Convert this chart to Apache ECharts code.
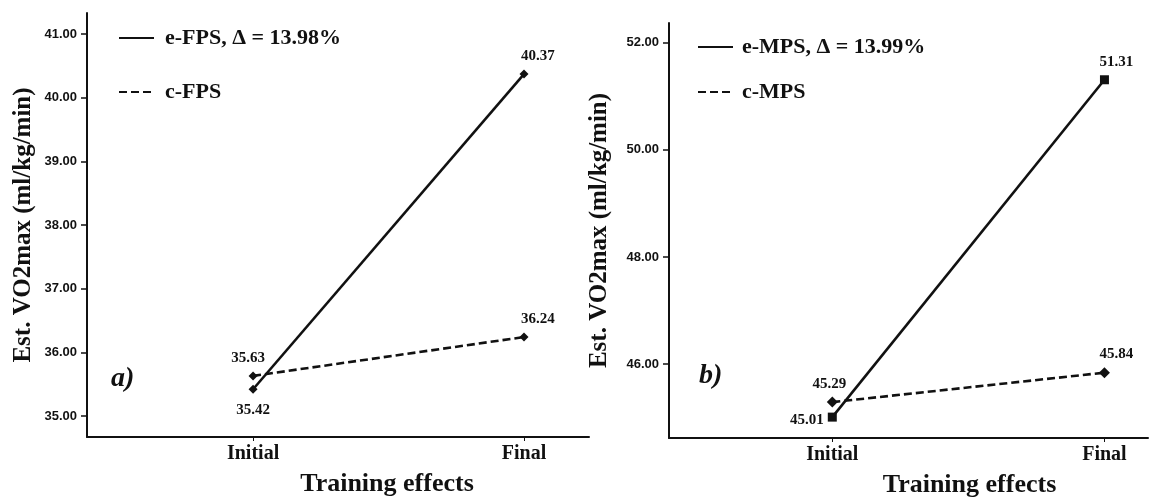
<!DOCTYPE html>
<html>
<head>
<meta charset="utf-8">
<script src="https://cdn.jsdelivr.net/npm/echarts@6/dist/echarts.min.js"></script>
<style>html,body{margin:0;padding:0;background:#fff;}#c{width:1150px;height:501px;}</style>
</head>
<body>
<div id="c"></div>
<script>
const categories = ['Initial', 'Final'];
const seriesNamesA = ['e-FPS, \u0394 = 13.98%', 'c-FPS'];
const eFPS = [35.42, 40.37];
const cFPS = [35.63, 36.24];
const seriesNamesB = ['e-MPS, \u0394 = 13.99%', 'c-MPS'];
const eMPS = [45.01, 51.31];
const cMPS = [45.29, 45.84];
const ticksA = [35, 36, 37, 38, 39, 40, 41];
const ticksB = [46, 48, 50, 52];
const yTitle = 'Est. VO2max (ml/kg/min)';
const xTitle = 'Training effects';
const panelTags = ['a)', 'b)'];

const serif = '"Liberation Serif", "Times New Roman", serif';
const sans = '"Liberation Sans", Arial, sans-serif';
const toPts = arr => arr.map((v, i) => [i, v]);

function xAxisFor(gi, min, max, padLeft) {
  return {
    type: 'value', gridIndex: gi, min: min, max: max,
    splitLine: { show: false },
    axisLine: { show: true, onZero: false, lineStyle: { color: '#111', width: 2 } },
    axisTick: { show: true, customValues: [0, 1], length: 4, lineStyle: { color: '#111' } },
    axisLabel: { customValues: [0, 1], formatter: v => categories[Math.round(v)] || '', margin: 7,
      color: '#111', fontFamily: serif, fontWeight: 'bold', fontSize: 20 },
    name: xTitle, nameLocation: 'middle', nameGap: 34,
    nameTextStyle: { color: '#111', fontFamily: serif, fontWeight: 'bold', fontSize: 26, padding: [0, 0, 0, padLeft] }
  };
}
function yAxisFor(gi, min, max, ticks, gap) {
  return {
    type: 'value', gridIndex: gi, min: min, max: max,
    splitLine: { show: false },
    axisLine: { show: true, onZero: false, lineStyle: { color: '#111', width: 2 } },
    axisTick: { show: true, customValues: ticks, length: 6, lineStyle: { color: '#111', width: 1.5 } },
    axisLabel: { customValues: ticks, formatter: v => v.toFixed(2), margin: 10,
      color: '#111', fontFamily: sans, fontWeight: 'bold', fontSize: 13 },
    name: yTitle, nameLocation: 'middle', nameGap: gap, nameRotate: 90,
    nameTextStyle: { color: '#111', fontFamily: serif, fontWeight: 'bold', fontSize: 25 }
  };
}
const lblStyle = { color: '#111', fontFamily: serif, fontWeight: 'bold', fontSize: 15 };
function lineSeries(name, data, gi, dashed, symbol, size, labelCfg) {
  return {
    type: 'line', name: name, xAxisIndex: gi, yAxisIndex: gi,
    data: toPts(data).map((p, i) => ({ value: p, label: Object.assign({ show: true, formatter: d => d.value[1].toFixed(2) }, lblStyle, labelCfg[i]) })),
    symbol: symbol, symbolSize: size, showSymbol: true,
    lineStyle: { color: '#111', width: 2.6, type: dashed ? [8, 4] : 'solid' },
    itemStyle: { color: '#111' },
    animation: false, z: dashed ? 3 : 4
  };
}

const chart = echarts.init(document.getElementById('c'), null, { renderer: 'canvas' });
chart.setOption({
  backgroundColor: '#fff',
  animation: false,
  grid: [
    { left: 87, top: 13, width: 502, bottom: 64, containLabel: false, outerBoundsMode: 'none' },
    { left: 669, top: 23, right: 2, bottom: 63, containLabel: false, outerBoundsMode: 'none' }
  ],
  xAxis: [xAxisFor(0, -0.613, 1.24, 98), xAxisFor(1, -0.60, 1.16, 122)],
  yAxis: [yAxisFor(0, 34.67, 41.33, ticksA, 51), yAxisFor(1, 44.62, 52.37, ticksB, 57)],
  legend: [
    { data: seriesNamesA, orient: 'vertical', left: 113, top: 22, itemWidth: 35, itemHeight: 14, itemGap: 32,
      itemStyle: { opacity: 0 },
      textStyle: { color: '#111', fontFamily: serif, fontWeight: 'bold', fontSize: 22, lineHeight: 22, padding: [0, 0, 0, 6] } },
    { data: seriesNamesB, orient: 'vertical', left: 692, top: 31, itemWidth: 35, itemHeight: 14, itemGap: 23,
      itemStyle: { opacity: 0 },
      textStyle: { color: '#111', fontFamily: serif, fontWeight: 'bold', fontSize: 22, lineHeight: 22, padding: [0, 0, 0, 4] } }
  ],
  graphic: [
    { type: 'text', left: 111, top: 365, style: { text: panelTags[0], fill: '#111', font: 'italic bold 28px ' + serif } },
    { type: 'text', left: 699, top: 362, style: { text: panelTags[1], fill: '#111', font: 'italic bold 28px ' + serif } }
  ],
  series: [
    lineSeries(seriesNamesA[0], eFPS, 0, false, 'diamond', 9, [{ position: 'bottom', distance: 9 }, { position: 'top', distance: 6, offset: [14, 0] }]),
    lineSeries(seriesNamesA[1], cFPS, 0, true, 'diamond', 9, [{ position: 'top', distance: 6, offset: [-5, 0] }, { position: 'top', distance: 6, offset: [14, 0] }]),
    lineSeries(seriesNamesB[0], eMPS, 1, false, 'rect', 9, [{ position: 'left', distance: 4 , offset: [0, 3]}, { position: 'top', distance: 6, offset: [12, 0] }]),
    lineSeries(seriesNamesB[1], cMPS, 1, true, 'diamond', 11, [{ position: 'top', distance: 5, offset: [-3, 0] }, { position: 'top', distance: 6, offset: [12, 0] }])
  ]
});
</script>
</body>
</html>
